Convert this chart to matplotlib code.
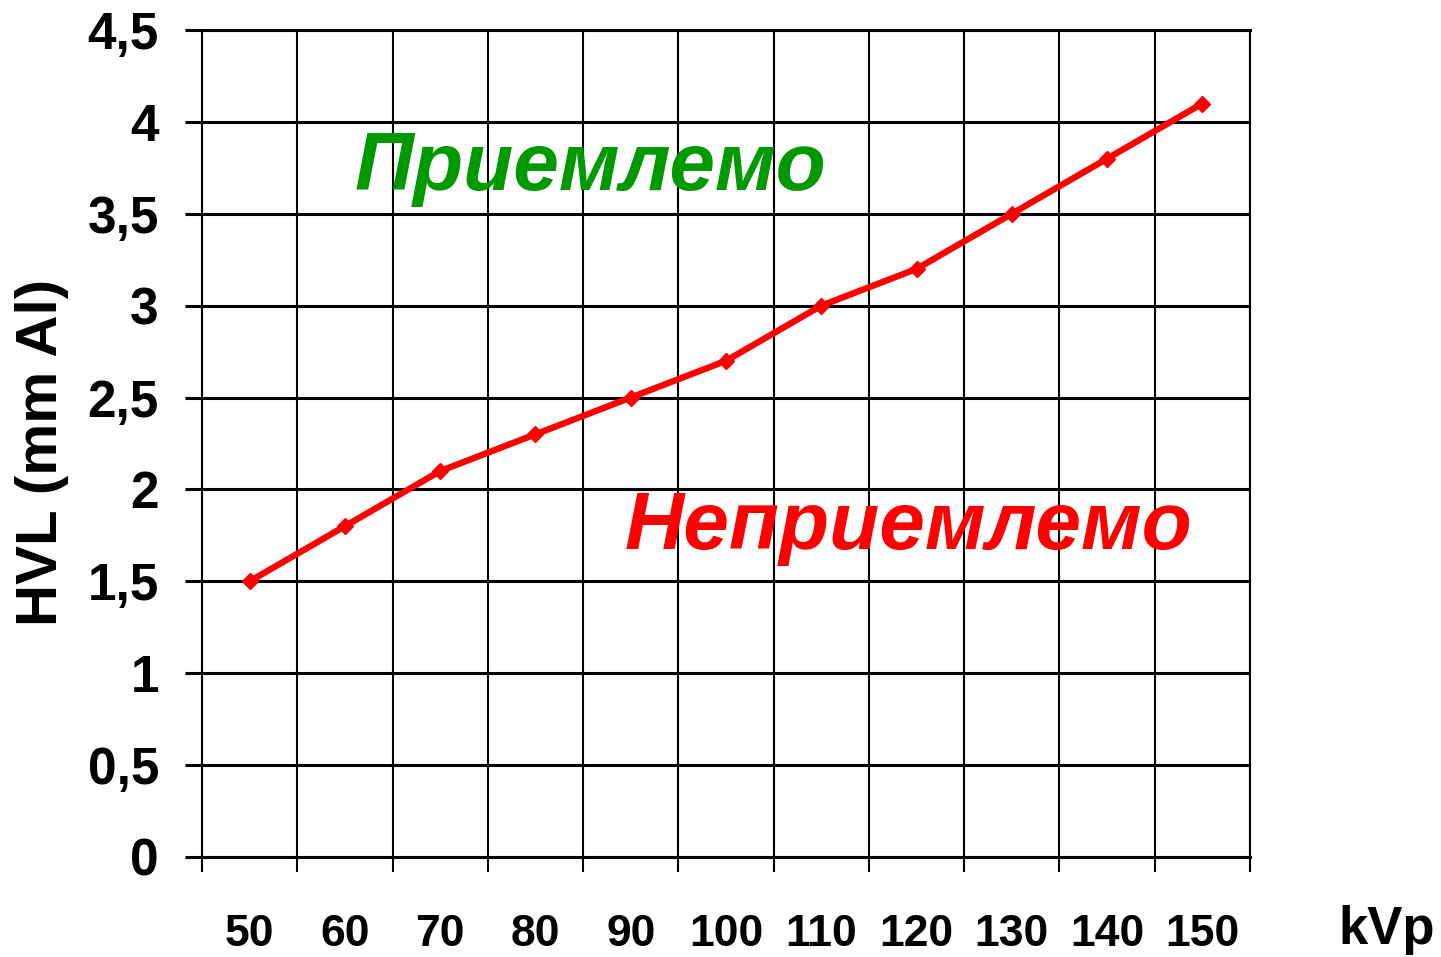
import matplotlib
matplotlib.use("Agg")
import matplotlib.pyplot as plt
import numpy as np

kvp = ["50", "60", "70", "80", "90", "100", "110", "120", "130", "140", "150"]
hvl = [1.5, 1.8, 2.1, 2.3, 2.5, 2.7, 3.0, 3.2, 3.5, 3.8, 4.1]
yticks = [0, 0.5, 1, 1.5, 2, 2.5, 3, 3.5, 4, 4.5]
ytick_labels = ["0", "0,5", "1", "1,5", "2", "2,5", "3", "3,5", "4", "4,5"]

regular = ["Liberation Sans", "DejaVu Sans"]

fig = plt.figure(figsize=(14.41, 9.57), dpi=100)
ax = fig.add_axes([202/1441, 1-857/957, (1250-202)/1441, (857-30)/957])

x = np.arange(len(kvp))
ax.plot(x, hvl, color="#ff0000", lw=4.6, marker="D", ms=8, zorder=5)

ax.set_xlim(-0.5, len(kvp) - 0.5)
ax.set_ylim(0, 4.5)

# y axis
ax.set_yticks(yticks)
ax.set_yticklabels(ytick_labels, fontfamily=regular, fontweight="bold", fontsize=37)
ax.tick_params(axis="y", length=12, width=2.2, pad=19, color="black")
ax.yaxis.grid(True, color="black", lw=2.2)

# x axis: boundaries as major ticks, labels at minor
ax.set_xticks(np.arange(-0.5, len(kvp), 1.0))
ax.set_xticklabels([])
ax.set_xticks(x, minor=True)
ax.set_xticklabels(kvp, minor=True, fontfamily=regular, fontweight="bold", fontsize=32)
ax.tick_params(axis="x", which="major", length=11, width=1.5, color="black")
ax.tick_params(axis="x", which="minor", length=0, pad=41)
ax.xaxis.grid(True, which="major", color="black", lw=1.5)

for s in ["left", "right"]:
    ax.spines[s].set_linewidth(1.5)
for s in ["top", "bottom"]:
    ax.spines[s].set_linewidth(2.2)

ax.text(1.10, 3.63, "Приемлемо", color="#009900", fontsize=59, fontweight="bold",
        fontstyle="italic", fontfamily=regular, ha="left", va="baseline", zorder=6)
ax.text(3.94, 1.676, "Неприемлемо", color="#ff0000", fontsize=59, fontweight="bold",
        fontstyle="italic", fontfamily=regular, ha="left", va="baseline", zorder=6)

fig.text(42/1441, 1-452/957, "HVL (mm Al)", rotation=90, ha="center", va="center",
         fontsize=42, fontweight="bold", fontfamily=regular)
fig.text(1338/1441, 1-944/957, "kVp", ha="left", va="baseline",
         fontsize=38, fontweight="bold", fontfamily=regular)

fig.savefig("out.png", dpi=100)
